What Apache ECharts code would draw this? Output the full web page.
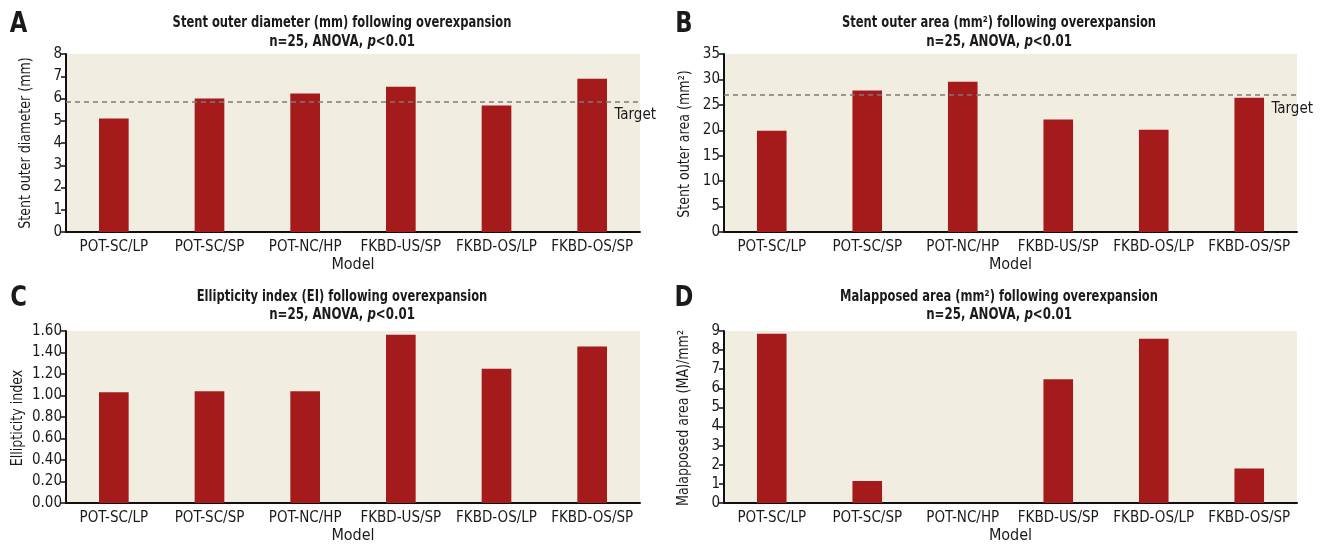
<!DOCTYPE html>
<html>
<head>
<meta charset="utf-8">
<script src="https://cdn.jsdelivr.net/npm/echarts@6/dist/echarts.min.js"></script>
<style>
html,body{margin:0;padding:0;background:#fff;}
#c{width:1321px;height:545px;}
</style>
</head>
<body>
<div id="c"></div>
<script>
const categories = ['POT-SC/LP','POT-SC/SP','POT-NC/HP','FKBD-US/SP','FKBD-OS/LP','FKBD-OS/SP'];
const diameterValues = [5.1, 6.0, 6.22, 6.53, 5.68, 6.89];
const diameterTarget = 5.84;
const areaValues = [19.9, 27.8, 29.55, 22.1, 20.1, 26.4];
const areaTarget = 26.9;
const ellipticityValues = [1.03, 1.04, 1.04, 1.565, 1.25, 1.455];
const malapposedValues = [8.85, 1.15, 0, 6.47, 8.6, 1.8];

const FONT = "'DejaVu Sans Condensed','Liberation Sans Narrow',sans-serif";
const BAR = '#a51b1c';
const BG = '#f1ede0';
const INK = '#1a1a1a';

const grids = [
  {left: 66, top: 54, width: 574, height: 178},
  {left: 724, top: 54, width: 573, height: 178},
  {left: 66, top: 331, width: 574, height: 178},
  {left: 724, top: 331, width: 573, height: 178}
].map(g => Object.assign({show: true, backgroundColor: BG, borderWidth: 0, containLabel: false}, g));

function xAxis(i) {
  return {
    type: 'category', gridIndex: i, data: categories,
    name: 'Model', nameLocation: 'middle', nameGap: 25,
    nameTextStyle: {fontFamily: FONT, fontSize: 16, color: INK},
    axisLine: {lineStyle: {color: '#111', width: 2}},
    axisTick: {show: false},
    axisLabel: {fontFamily: FONT, fontSize: 15, color: INK, margin: 8, interval: 0}
  };
}
function yAxis(i, max, interval, fmt) {
  return {
    type: 'value', gridIndex: i, min: 0, max: max, interval: interval,
    axisLine: {show: true, lineStyle: {color: '#111', width: 2}},
    axisTick: {show: true, length: 5, lineStyle: {color: '#111', width: 1.5}},
    splitLine: {show: false},
    axisLabel: {fontFamily: FONT, fontSize: 15, color: INK, margin: 4, formatter: fmt}
  };
}
function target(v) {
  return {
    symbol: 'none', silent: true,
    lineStyle: {type: [5, 4], color: '#7a7a7a', width: 1.5},
    label: {show: true, position: 'insideEndBottom', formatter: 'Target', fontFamily: FONT, fontSize: 15, color: INK, distance: [-16, 6]},
    data: [{yAxis: v}]
  };
}
function series(i, data, tgt) {
  const s = {type: 'bar', xAxisIndex: i, yAxisIndex: i, data: data, barWidth: '31%', itemStyle: {color: BAR}, silent: true};
  if (tgt !== undefined) s.markLine = target(tgt);
  return s;
}
function txt(x, y, text, size, opts) {
  opts = opts || {};
  return {
    type: 'text', x: x, y: y, rotation: opts.rot || 0, scaleX: opts.sx || 1, silent: true,
    style: {
      text: text, fontFamily: FONT, fontSize: size, fontWeight: opts.bold ? 'bold' : 'normal',
      fill: INK, align: 'center', verticalAlign: 'middle',
      rich: {i: {fontFamily: FONT, fontSize: size, fontWeight: 'bold', fontStyle: 'italic', fill: INK}}
    }
  };
}
const SUB = 'n=25, ANOVA, {i|p}<0.01';
const graphics = [
  txt(18.5, 25, 'A', 28, {bold: true, sx: 0.9}),
  txt(684, 25, 'B', 28, {bold: true, sx: 0.9}),
  txt(18.5, 299, 'C', 28, {bold: true, sx: 0.9}),
  txt(684, 299, 'D', 28, {bold: true, sx: 0.9}),
  txt(342, 23, 'Stent outer diameter (mm) following overexpansion', 16, {bold: true, sx: 0.8}),
  txt(342, 42, SUB, 16, {bold: true, sx: 0.82}),
  txt(999, 23, 'Stent outer area (mm²) following overexpansion', 16, {bold: true, sx: 0.8}),
  txt(999, 42, SUB, 16, {bold: true, sx: 0.82}),
  txt(342, 297, 'Ellipticity index (EI) following overexpansion', 16, {bold: true, sx: 0.8}),
  txt(342, 315, SUB, 16, {bold: true, sx: 0.82}),
  txt(999, 297, 'Malapposed area (mm²) following overexpansion', 16, {bold: true, sx: 0.8}),
  txt(999, 315, SUB, 16, {bold: true, sx: 0.82}),
  txt(26, 143, 'Stent outer diameter (mm)', 16, {rot: Math.PI / 2, sx: 0.88}),
  txt(685, 144, 'Stent outer area (mm²)', 16, {rot: Math.PI / 2, sx: 0.88}),
  txt(18, 418, 'Ellipticity index', 16, {rot: Math.PI / 2, sx: 0.88}),
  txt(684, 418, 'Malapposed area (MA)/mm²', 16, {rot: Math.PI / 2, sx: 0.88})
];

const option = {
  animation: false,
  backgroundColor: '#fff',
  grid: grids,
  xAxis: [xAxis(0), xAxis(1), xAxis(2), xAxis(3)],
  yAxis: [
    yAxis(0, 8, 1, null),
    yAxis(1, 35, 5, null),
    yAxis(2, 1.6, 0.2, v => v.toFixed(2)),
    yAxis(3, 9, 1, null)
  ],
  graphic: graphics,
  series: [
    series(0, diameterValues, diameterTarget),
    series(1, areaValues, areaTarget),
    series(2, ellipticityValues),
    series(3, malapposedValues)
  ]
};
const chart = echarts.init(document.getElementById('c'), null, {renderer: 'canvas'});
chart.setOption(option);
</script>
</body>
</html>
